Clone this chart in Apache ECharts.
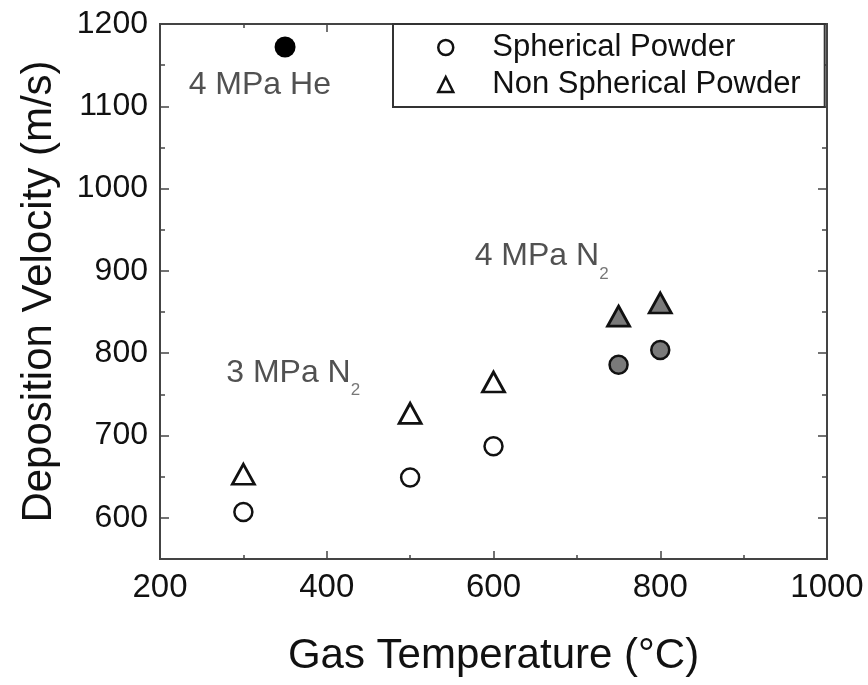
<!DOCTYPE html>
<html>
<head>
<meta charset="utf-8">
<script src="https://cdn.jsdelivr.net/npm/echarts@6/dist/echarts.min.js"></script>
<style>
  html, body { margin: 0; padding: 0; background: #fff; }
  #chart { width: 868px; height: 685px; }
</style>
</head>
<body>
<div id="chart"></div>
<script>
// Deposition velocity vs. gas temperature
const seriesNames = ['Spherical Powder', 'Non Spherical Powder'];
const gasTemps = [300, 500, 600, 750, 800];
const sphericalVel = [607, 649, 687, 786, 804];
const nonSphericalVel = [653, 727, 765, 845, 861];
// the 4 MPa N2 runs are drawn with a gray fill
const highPressure = [false, false, false, true, true];
const heliumRun = [350, 1172];
const xTicks = [200, 400, 600, 800, 1000];
const yTicks = [600, 700, 800, 900, 1000, 1100, 1200];
const yMinorTicks = [650, 750, 850, 950, 1050, 1150];
const notes = [
  { x: 235, y: 1125, text: '4 MPa He' },
  { x: 280, y: 775, text: '3 MPa N', sub: '2' },
  { x: 578, y: 917, text: '4 MPa N', sub: '2' }
];

const FONT = '"Liberation Sans", Arial, Helvetica, sans-serif';
const INK = '#111';
const FRAME = '#444';
const GRAY = '#7a7a7a';
const plain = v => String(v);

function points(vals) {
  return gasTemps.map((t, i) => ({
    value: [t, vals[i]],
    itemStyle: highPressure[i] ? { color: GRAY } : undefined
  }));
}

const xBase = {
  type: 'value',
  min: xTicks[0],
  max: xTicks[xTicks.length - 1],
  interval: xTicks[1] - xTicks[0],
  splitLine: { show: false },
  axisLine: { show: false },
  axisTick: { show: true, inside: true, length: 8, lineStyle: { color: FRAME, width: 1.5 } },
  minorTick: { show: true, splitNumber: 2, length: 4, lineStyle: { color: FRAME, width: 1.5 } }
};

function yAxisDef(pos, ticks, len, withLabels) {
  return {
    type: 'value',
    position: pos,
    min: 550,
    max: 1200,
    splitLine: { show: false },
    axisLine: { show: false },
    axisTick: { show: true, inside: true, length: len, customValues: ticks,
                lineStyle: { color: FRAME, width: 1.5 } },
    axisLabel: withLabels
      ? { show: true, customValues: ticks, margin: 12, fontSize: 32, color: INK,
          fontFamily: FONT, formatter: plain }
      : { show: false }
  };
}

const yMain = yAxisDef('left', yTicks, 9, true);
yMain.name = 'Deposition Velocity (m/s)';
yMain.nameLocation = 'middle';
yMain.nameGap = 100;
yMain.nameTextStyle = { fontSize: 42, color: INK, fontFamily: FONT };

const option = {
  backgroundColor: '#fff',
  animation: false,
  grid: {
    left: 160, right: 41, top: 24, bottom: 126,
    show: true, borderColor: FRAME, borderWidth: 2, backgroundColor: 'transparent'
  },
  legend: {
    data: seriesNames,
    orient: 'vertical',
    left: 393,
    top: 24,
    padding: [5, 24, 4, 44],
    itemGap: 0,
    itemWidth: 15,
    itemHeight: 15,
    borderColor: '#333',
    borderWidth: 2,
    backgroundColor: '#fff',
    selectedMode: false,
    itemStyle: { borderWidth: 2.5 },
    textStyle: { fontFamily: FONT, fontSize: 31, color: INK, lineHeight: 37, padding: [0, 0, 0, 34] }
  },
  xAxis: [
    Object.assign({}, xBase, {
      position: 'bottom',
      axisLabel: { margin: 12, fontSize: 33, color: INK, fontFamily: FONT, formatter: plain },
      name: 'Gas Temperature (°C)',
      nameLocation: 'middle',
      nameGap: 76,
      nameTextStyle: { fontSize: 42, color: INK, fontFamily: FONT }
    }),
    Object.assign({}, xBase, { position: 'top', axisLabel: { show: false } })
  ],
  yAxis: [
    yMain,
    yAxisDef('left', yMinorTicks, 5, false),
    yAxisDef('right', yTicks, 9, false),
    yAxisDef('right', yMinorTicks, 5, false)
  ],
  series: [
    {
      name: seriesNames[0],
      type: 'scatter',
      symbol: 'circle',
      symbolSize: 18,
      itemStyle: { color: '#fff', borderColor: INK, borderWidth: 2.5, opacity: 1 },
      data: points(sphericalVel),
      z: 3
    },
    {
      name: seriesNames[1],
      type: 'scatter',
      symbol: 'triangle',
      symbolSize: [22, 20],
      itemStyle: { color: '#fff', borderColor: INK, borderWidth: 2.8, opacity: 1 },
      data: points(nonSphericalVel),
      z: 3
    },
    {
      name: 'He',
      type: 'scatter',
      symbol: 'circle',
      symbolSize: 21,
      itemStyle: { color: '#000', opacity: 1 },
      data: [heliumRun],
      z: 3
    },
    {
      name: 'notes',
      type: 'scatter',
      symbolSize: 1,
      silent: true,
      itemStyle: { color: 'rgba(0,0,0,0)' },
      label: {
        show: true,
        position: [0, 0],
        align: 'left',
        verticalAlign: 'middle',
        fontFamily: FONT,
        rich: {
          m: { fontSize: 32, color: '#262626', lineHeight: 52, fontFamily: FONT },
          s: { fontSize: 17, color: '#555', lineHeight: 12, verticalAlign: 'bottom', fontFamily: FONT }
        }
      },
      data: notes.map(n => ({
        value: [n.x, n.y],
        label: { formatter: n.sub ? '{m|' + n.text + '}{s|' + n.sub + '}' : '{m|' + n.text + '}' }
      })),
      z: 4
    }
  ]
};

const chart = echarts.init(document.getElementById('chart'), null, { renderer: 'canvas' });
chart.setOption(option);
</script>
</body>
</html>
